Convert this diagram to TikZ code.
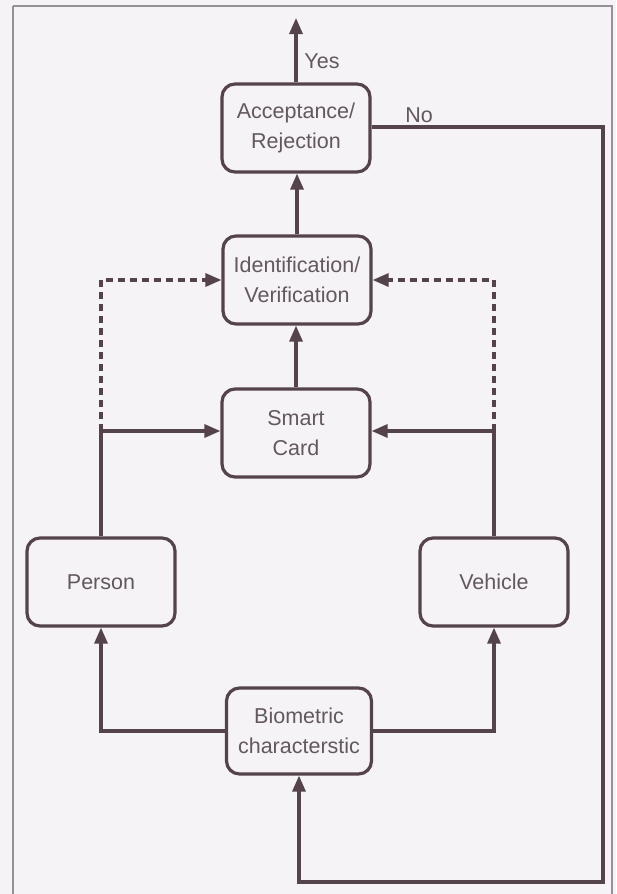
\documentclass[tikz,border=0pt]{standalone}
\usepackage{fontspec}
\setmainfont{Liberation Sans}
\usetikzlibrary{arrows.meta}
\definecolor{lc}{RGB}{84,66,76}
\definecolor{tc}{RGB}{98,88,94}
\definecolor{bg}{RGB}{245,243,245}
\definecolor{fr}{RGB}{150,144,150}
\begin{document}
\begin{tikzpicture}[x=1pt,y=-1pt,
  box/.style={draw=lc,line width=3.2pt,rounded corners=13pt,minimum width=148pt,minimum height=88pt,
    align=center,text=tc,font=\fontsize{21.5}{30}\selectfont,inner sep=0pt,fill=bg},
  conn/.style={draw=lc,line width=3.2pt},
  arr/.style={conn,-{Triangle[length=16pt,width=13pt]}},
  dsh/.style={conn,dash pattern=on 7pt off 5pt,-{Triangle[length=16pt,width=13pt]}},
  lbl/.style={text=tc,font=\fontsize{21.5}{24}\selectfont,inner sep=0pt}]
\useasboundingbox (0,0) rectangle (616,894);
\fill[bg] (0,0) rectangle (616,894);
\draw[fr,line width=1.8pt] (13,6) -- (612,6) -- (612,900);
\draw[fr,line width=1.8pt] (13,6) -- (13,900);
\node[box] (acc) at (296,128) {Acceptance/\\Rejection};
\node[box] (idv) at (297,280) {Identification/\\Verification};
\node[box] (sc) at (296,433) {Smart\\Card};
\node[box] (per) at (101,582) {Person};
\node[box] (veh) at (494,582) {Vehicle};
\node[box,minimum width=145pt,minimum height=86pt] (bio) at (299,731) {Biometric\\characterstic};
\coordinate (top) at (296,18);
\coordinate (ne) at (603,127);
\coordinate (se) at (603,882);
\coordinate (pj) at (101,431);
\coordinate (vj) at (494,431);
\draw[arr] (bio.west) -| (per.south);
\draw[arr] (bio.east) -| (veh.south);
\draw[conn] (per.north) -- (pj);
\draw[conn] (veh.north) -- (vj);
\draw[arr] (pj) -- (sc.west |- pj);
\draw[arr] (vj) -- (sc.east |- vj);
\draw[dsh] (pj) |- (idv.west);
\draw[dsh] (vj) |- (idv.east);
\draw[arr] (sc.north) -- (sc.north |- idv.south);
\draw[arr] (idv.north) -- (idv.north |- acc.south);
\draw[arr] (acc.north) -- (top);
\draw[arr] (acc.east |- ne) -- (ne) -- (se) -- (bio.south |- se) -- (bio.south);
\node[lbl] (yes) at (322,61) {Yes};
\node[lbl] (no) at (419,115) {No};
\end{tikzpicture}
\end{document}
